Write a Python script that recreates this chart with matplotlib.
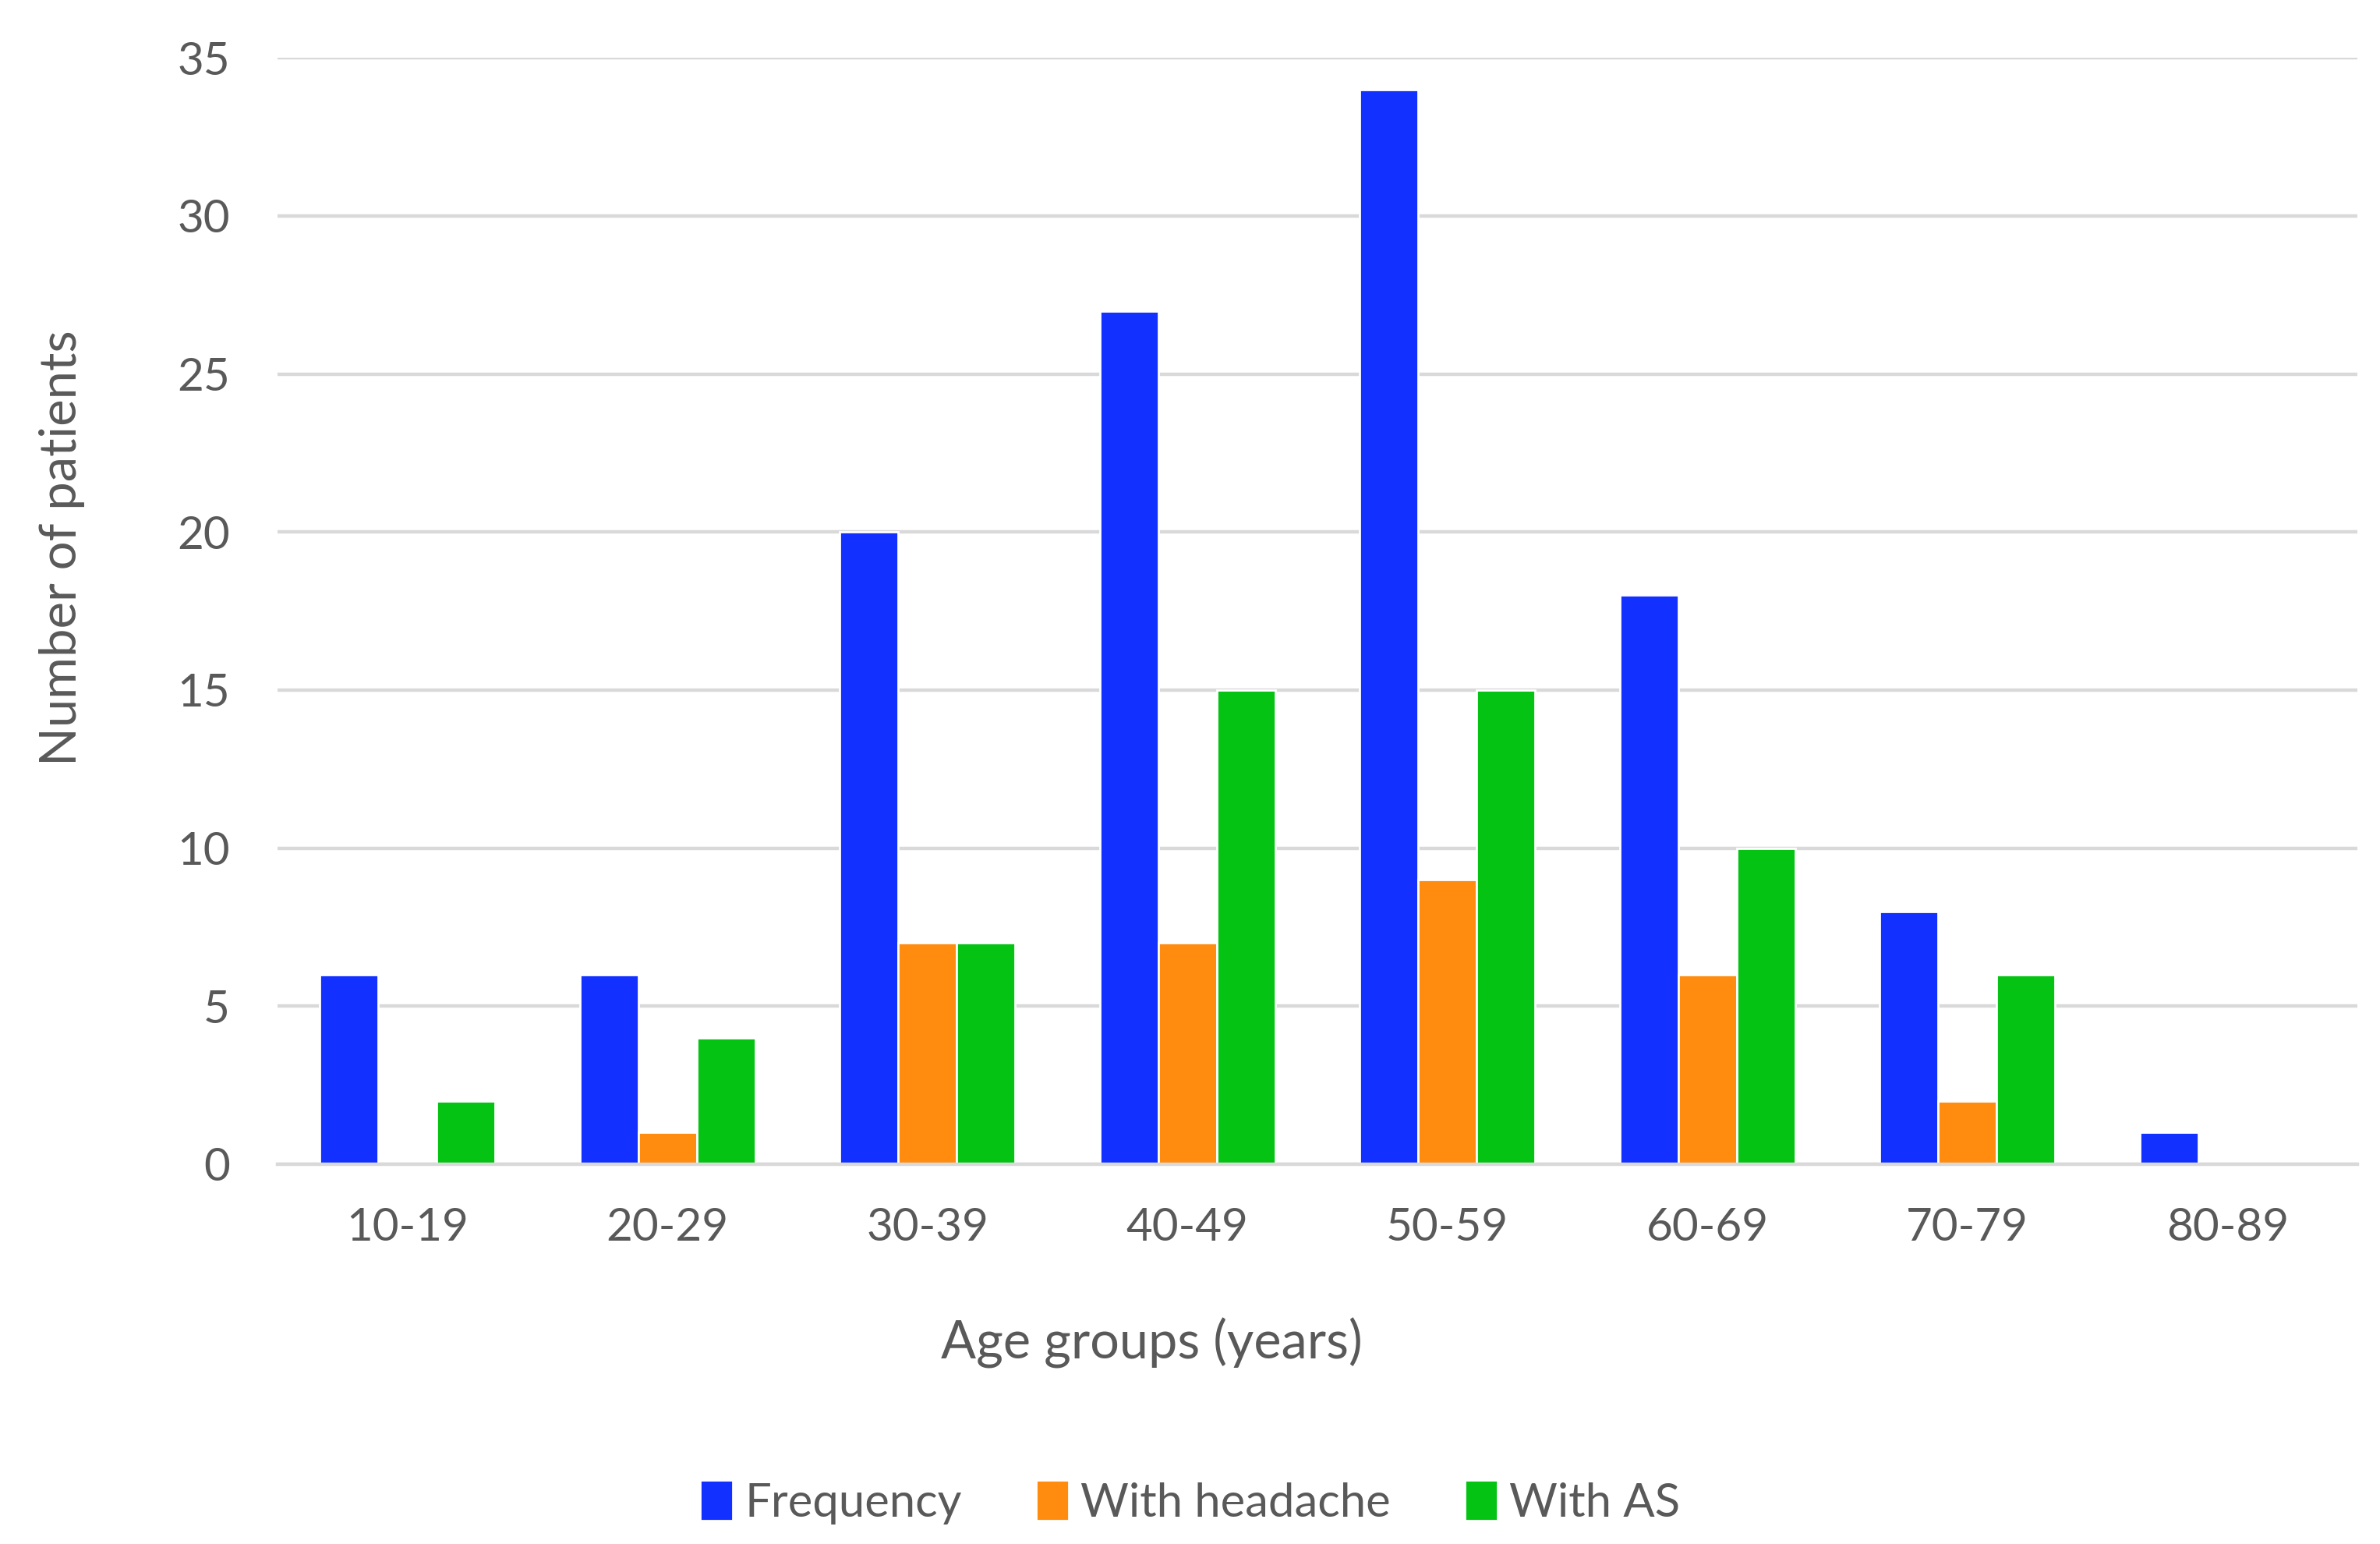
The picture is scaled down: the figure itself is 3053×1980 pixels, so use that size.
import matplotlib.pyplot as plt
import numpy as np

# data
age_groups = ["10-19", "20-29", "30-39", "40-49", "50-59", "60-69", "70-79", "80-89"]
frequency = [6, 6, 20, 27, 34, 18, 8, 1]
with_headache = [0, 1, 7, 7, 9, 6, 2, 0]
with_as = [2, 4, 7, 15, 15, 10, 6, 0]

series_names = ["Frequency", "With headache", "With AS"]
series_colors = ["#1230FF", "#FF8C0E", "#05C313"]

plt.rcParams["font.family"] = ["Lato", "DejaVu Sans"]
text_color = "#595959"
grid_color = "#D9D9D9"

fig = plt.figure(figsize=(15.265, 9.9), dpi=200)
ax = fig.add_axes([0.1166, 0.246, 0.8739, 0.7165])

x = np.arange(len(age_groups))
width = 0.225
series = [frequency, with_headache, with_as]
for i, (vals, name, col) in enumerate(zip(series, series_names, series_colors)):
    ax.bar(x + (i - 1) * width, vals, width, color=col, label=name,
           edgecolor="white", linewidth=1.0, zorder=3)

ax.set_xlim(-0.5, len(age_groups) - 0.5)
ax.set_ylim(0, 35)
ax.set_yticks(range(0, 36, 5))
ax.set_xticks(x)
ax.set_xticklabels(age_groups)

ax.grid(axis="y", color=grid_color, linewidth=1.6, zorder=0)
for side in ["top", "right", "left"]:
    ax.spines[side].set_visible(False)
ax.spines["bottom"].set_color(grid_color)
ax.spines["bottom"].set_linewidth(1.6)
ax.spines["bottom"].set_zorder(4)

ax.tick_params(axis="both", length=0, labelsize=21, labelcolor=text_color)
ax.tick_params(axis="y", pad=22)
ax.tick_params(axis="x", pad=20)

fig.text(0.484, 0.13, "Age groups (years)", ha="center", va="center",
         fontsize=24, color=text_color)
fig.text(0.026, 0.645, "Number of patients", ha="center", va="center",
         rotation=90, fontsize=23.5, color=text_color)

fig.legend(loc="center", bbox_to_anchor=(0.5, 0.027), ncol=3, frameon=False,
           fontsize=21.5, labelcolor=text_color, handlelength=0.7,
           handleheight=0.95, handletextpad=0.25, columnspacing=1.6)

fig.savefig("out.png", dpi=200)
